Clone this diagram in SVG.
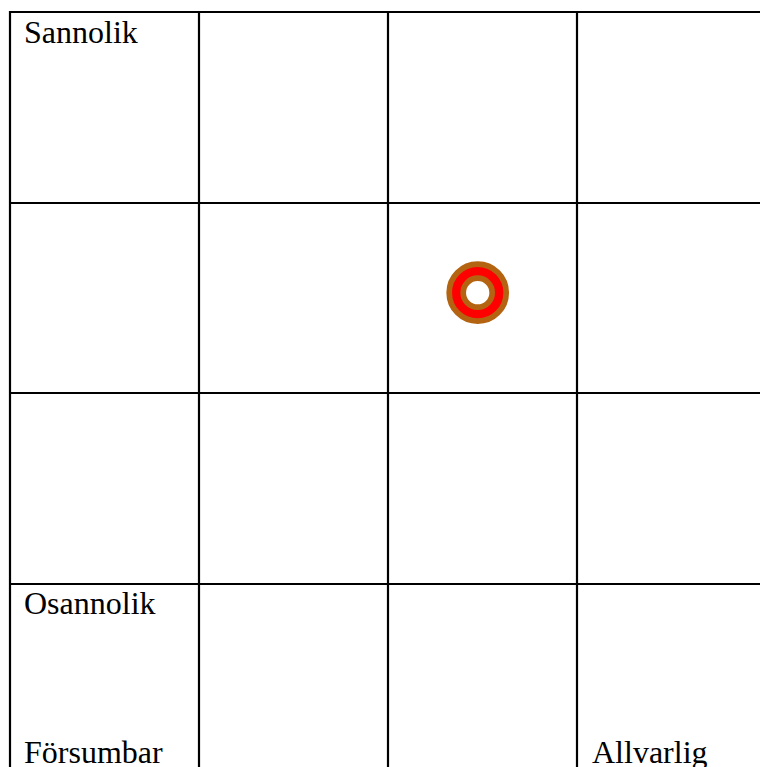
<svg xmlns="http://www.w3.org/2000/svg" width="760" height="767" viewBox="0 0 760 767">
<style>
.g{stroke:#000;stroke-width:2.2;fill:none}
.t{font-family:'Liberation Serif','Times New Roman',Times,serif;font-size:32px;fill:#000}
.ring{stroke:#b46410;stroke-width:5.7}
</style>
<rect width="760" height="767" fill="#fff"/>
<g id="grid">
<line class="g" x1="10" y1="12" x2="760" y2="12"/>
<line class="g" x1="10" y1="203" x2="760" y2="203"/>
<line class="g" x1="10" y1="393" x2="760" y2="393"/>
<line class="g" x1="10" y1="584" x2="760" y2="584"/>
<line class="g" x1="10" y1="11" x2="10" y2="767"/>
<line class="g" x1="199" y1="11" x2="199" y2="767"/>
<line class="g" x1="388" y1="11" x2="388" y2="767"/>
<line class="g" x1="577" y1="11" x2="577" y2="767"/>
</g>
<g id="labels">
<text class="t" x="24" y="43" font-family="Liberation Serif, serif">Sannolik</text>
<text class="t" x="24" y="614" font-family="Liberation Serif, serif">Osannolik</text>
<text class="t" x="24" y="763" font-family="Liberation Serif, serif">Försumbar</text>
<text class="t" x="592" y="763" font-family="Liberation Serif, serif">Allvarlig</text>
</g>
<g id="marker">
<circle class="ring" cx="477.7" cy="292.7" r="28.5" fill="#ff0000"/>
<circle class="ring" cx="477.7" cy="292.7" r="14.5" fill="#fff"/>
</g>
</svg>
